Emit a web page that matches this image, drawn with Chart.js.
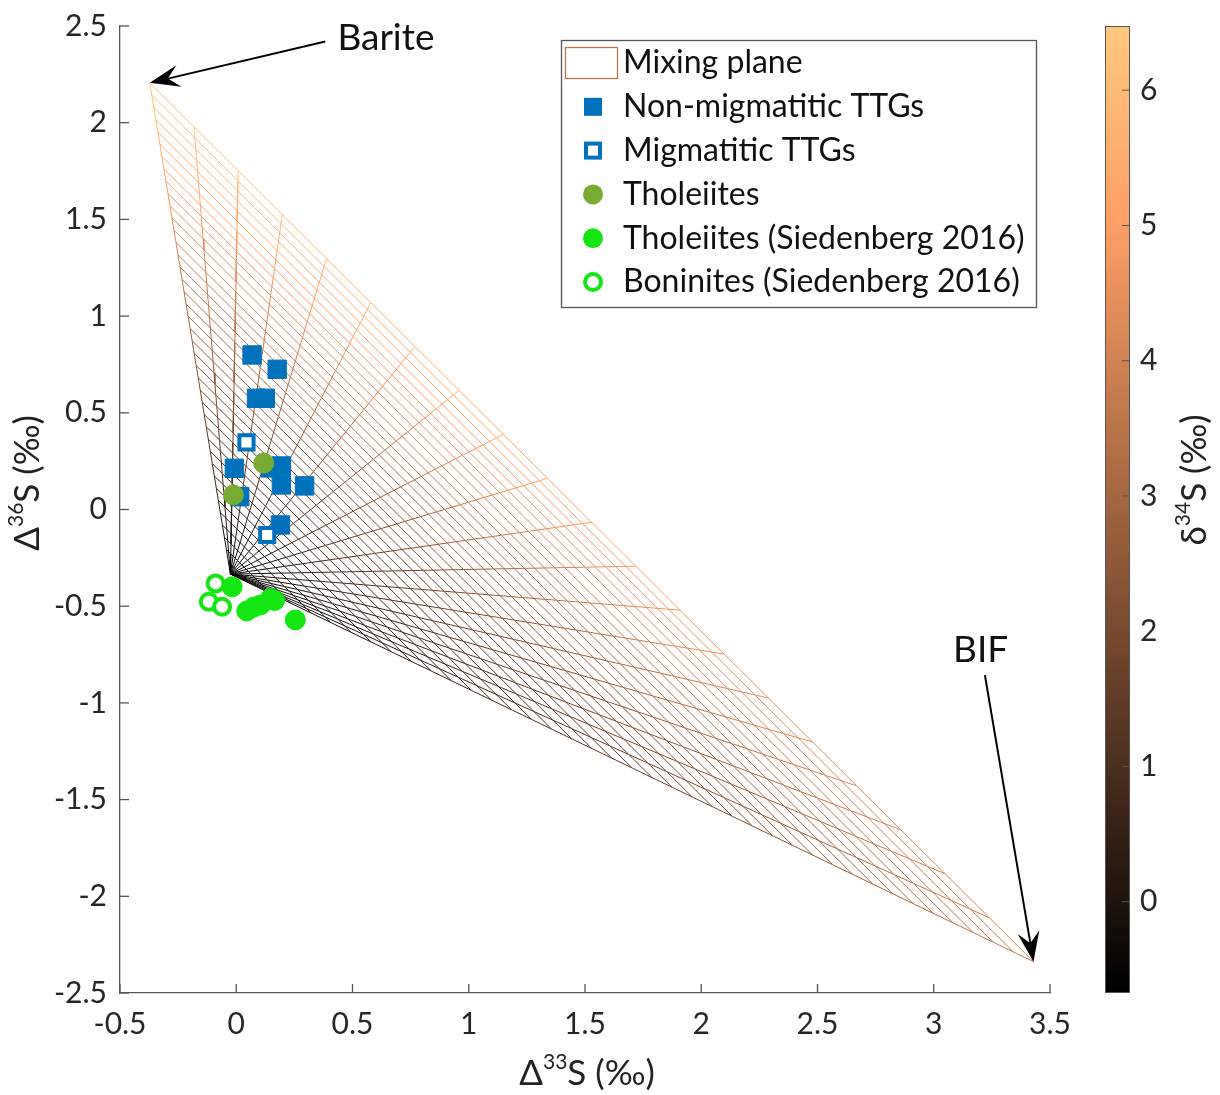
<!DOCTYPE html>
<html>
<head>
<meta charset="utf-8">
<title>Mixing plane</title>
<script src="https://cdn.jsdelivr.net/npm/chart.js@4.4.1/dist/chart.umd.min.js"></script>
<style>
  body { margin: 0; background: #fff; }
  #box { position: relative; width: 1220px; height: 1095px; }
</style>
</head>
<body>
<div id="box"><canvas id="chart" width="1220" height="1095"></canvas></div>
<script>
'use strict';

var FONT = "Lato, 'Noto Sans', 'DejaVu Sans', sans-serif";

// end-members: [D33S, D36S, d34S]
var BARITE = [-0.372, 2.206, 6.47];
var BIF = [3.429, -2.338, 3.8];
var MANTLE = [-0.025, -0.334, -0.67];

// mixing steps of the plane: mantle share, and barite share along the barite-BIF edge
var MANTLE_STEPS = [0, 0.025, 0.05, 0.075, 0.1, 0.125, 0.15, 0.175, 0.2, 0.225, 0.25, 0.275, 0.3, 0.325,
  0.35, 0.375, 0.4, 0.425, 0.45, 0.475, 0.5, 0.525, 0.55, 0.575, 0.6, 0.625, 0.65, 0.675, 0.7, 0.725,
  0.75, 0.775, 0.8, 0.825, 0.85, 0.875, 0.9, 0.925, 0.95, 0.975, 1];
var BARITE_STEPS = [0, 0.05, 0.1, 0.15, 0.2, 0.25, 0.3, 0.35, 0.4, 0.45, 0.5, 0.55, 0.6, 0.65, 0.7,
  0.75, 0.8, 0.85, 0.9, 0.95, 1];

// colorbar (d34S)
var CBAR_MIN = -0.675;
var CBAR_MAX = 6.475;
var CBAR_TICKS = [0, 1, 2, 3, 4, 5, 6];

// samples
var nonMigX = [0.068, 0.176, 0.087, 0.125, -0.008, 0.015, 0.147, 0.194, 0.194, 0.294, 0.19];
var nonMigY = [0.799, 0.725, 0.575, 0.575, 0.213, 0.066, 0.215, 0.225, 0.127, 0.122, -0.08];
var migX = [0.044, 0.133];
var migY = [0.347, -0.132];
var tholX = [0.118, -0.012];
var tholY = [0.24, 0.075];
var thol16X = [-0.018, 0.045, 0.075, 0.104, 0.147, 0.165, 0.254];
var thol16Y = [-0.40, -0.525, -0.505, -0.494, -0.46, -0.47, -0.571];
var bonX = [-0.089, -0.118, -0.061];
var bonY = [-0.382, -0.477, -0.503];

// annotation anchors (data units)
var BARITE_LABEL = {x: 0.435, y: 2.438, tailX: 0.383, tailY: 2.42};
var BIF_LABEL = {x: 3.083, y: -0.727, tailX: 3.22, tailY: -0.856};

var BLUE = '#0072BD';
var OLIVE = '#77AC30';
var GREEN = '#14E614';

function pts(xs, ys) {
  var out = [];
  for (var i = 0; i < xs.length; i++) out.push({x: xs[i], y: ys[i]});
  return out;
}

function copper(d) {
  var v = (d - CBAR_MIN) / (CBAR_MAX - CBAR_MIN);
  v = Math.max(0, Math.min(1, v));
  var r = Math.min(1, 1.25 * v), g = 0.7812 * v, b = 0.4975 * v;
  return 'rgb(' + Math.round(r * 255) + ',' + Math.round(g * 255) + ',' + Math.round(b * 255) + ')';
}

function mixPoint(m, t) {
  var o = [];
  for (var k = 0; k < 3; k++) {
    o.push(m * MANTLE[k] + (1 - m) * (t * BARITE[k] + (1 - t) * BIF[k]));
  }
  return {x: o[0], y: o[1], d: o[2]};
}

function meshDataset(line) {
  return {
    label: '',
    data: line,
    showLine: true,
    pointRadius: 0,
    borderWidth: 1,
    order: 20,
    borderColor: copper(line[0].d),
    segment: {
      borderColor: function(ctx) {
        return copper((line[ctx.p0DataIndex].d + line[ctx.p1DataIndex].d) / 2);
      }
    }
  };
}

var datasets = [];
// lines of constant mantle share
MANTLE_STEPS.forEach(function(m) {
  if (m === 1) return;
  datasets.push(meshDataset(BARITE_STEPS.map(function(t) { return mixPoint(m, t); })));
});
// lines from the mantle point to the barite-BIF edge
BARITE_STEPS.forEach(function(t) {
  datasets.push(meshDataset(MANTLE_STEPS.map(function(m) { return mixPoint(m, t); })));
});

datasets.push({label: 'Non-migmatitic TTGs', data: pts(nonMigX, nonMigY), pointStyle: 'rect',
  pointRadius: 13, backgroundColor: BLUE, borderColor: BLUE, borderWidth: 1, order: 5});
datasets.push({label: 'Migmatitic TTGs', data: pts(migX, migY), pointStyle: 'rect',
  pointRadius: 10, backgroundColor: '#fff', borderColor: BLUE, borderWidth: 4, order: 4});
datasets.push({label: 'Tholeiites', data: pts(tholX, tholY), pointStyle: 'circle',
  pointRadius: 10, backgroundColor: OLIVE, borderColor: OLIVE, borderWidth: 1, order: 3});
datasets.push({label: 'Boninites (Siedenberg 2016)', data: pts(bonX, bonY), pointStyle: 'circle',
  pointRadius: 8, backgroundColor: '#fff', borderColor: GREEN, borderWidth: 4, order: 2});
datasets.push({label: 'Tholeiites (Siedenberg 2016)', data: pts(thol16X, thol16Y), pointStyle: 'circle',
  pointRadius: 10, backgroundColor: GREEN, borderColor: GREEN, borderWidth: 1, order: 1});

// text with superscripts: parts = [[text, size, raise], ...]
function richText(ctx, parts, x, y, rot) {
  var w = 0, i;
  for (i = 0; i < parts.length; i++) {
    ctx.font = parts[i][1] + 'px ' + FONT;
    w += ctx.measureText(parts[i][0]).width;
  }
  ctx.save();
  ctx.translate(x, y);
  ctx.rotate(rot || 0);
  ctx.fillStyle = '#222';
  ctx.textBaseline = 'middle';
  ctx.textAlign = 'left';
  var cx = -w / 2;
  for (i = 0; i < parts.length; i++) {
    ctx.font = parts[i][1] + 'px ' + FONT;
    ctx.fillText(parts[i][0], cx, -parts[i][2]);
    cx += ctx.measureText(parts[i][0]).width;
  }
  ctx.restore();
}

function arrow(ctx, x0, y0, x1, y1) {
  var a = Math.atan2(y1 - y0, x1 - x0);
  var dx = Math.cos(a), dy = Math.sin(a);
  var L = 30, W = 11;
  ctx.save();
  ctx.strokeStyle = '#000';
  ctx.fillStyle = '#000';
  ctx.lineWidth = 2;
  ctx.beginPath();
  ctx.moveTo(x0, y0);
  ctx.lineTo(x1 - dx * 12, y1 - dy * 12);
  ctx.stroke();
  ctx.beginPath();
  ctx.moveTo(x1, y1);
  ctx.lineTo(x1 - dx * L - dy * W, y1 - dy * L + dx * W);
  ctx.lineTo(x1 - dx * L * 0.62, y1 - dy * L * 0.62);
  ctx.lineTo(x1 - dx * L + dy * W, y1 - dy * L - dx * W);
  ctx.closePath();
  ctx.fill();
  ctx.restore();
}

function marker(ctx, style, x, y) {
  ctx.save();
  ctx.beginPath();
  if (style === 'fsq') {
    ctx.fillStyle = BLUE;
    ctx.fillRect(x - 9, y - 9, 18, 18);
  } else if (style === 'osq') {
    ctx.strokeStyle = BLUE;
    ctx.lineWidth = 4;
    ctx.strokeRect(x - 7, y - 7, 14, 14);
  } else {
    ctx.arc(x, y, style === 'ocir' ? 8 : 10, 0, Math.PI * 2);
    if (style === 'ocir') {
      ctx.strokeStyle = GREEN;
      ctx.lineWidth = 4;
      ctx.stroke();
    } else {
      ctx.fillStyle = style === 'olive' ? OLIVE : GREEN;
      ctx.fill();
    }
  }
  ctx.restore();
}

var extras = {
  id: 'extras',
  beforeDatasetsDraw: function(chart) {
    var ctx = chart.ctx, area = chart.chartArea;
    var xs = chart.scales.x, ys = chart.scales.y, cb = chart.scales.cbar;
    ctx.save();
    // inward axis ticks
    ctx.strokeStyle = '#555';
    ctx.lineWidth = 1.3;
    xs.ticks.forEach(function(t) {
      var px = xs.getPixelForValue(t.value);
      ctx.beginPath(); ctx.moveTo(px, area.bottom); ctx.lineTo(px, area.bottom - 9); ctx.stroke();
    });
    ys.ticks.forEach(function(t) {
      var py = ys.getPixelForValue(t.value);
      ctx.beginPath(); ctx.moveTo(area.left, py); ctx.lineTo(area.left + 9, py); ctx.stroke();
    });
    // colorbar
    var left = area.right + 55, right = area.right + 80;
    var top = cb.getPixelForValue(CBAR_MAX), bot = cb.getPixelForValue(CBAR_MIN);
    for (var py = Math.floor(top); py < bot; py++) {
      ctx.fillStyle = copper(cb.getValueForPixel(py + 0.5));
      ctx.fillRect(left, py, right - left, 1);
    }
    ctx.strokeStyle = '#555';
    ctx.lineWidth = 1;
    ctx.strokeRect(left + 0.5, top + 0.5, right - left - 1, bot - top - 1);
    CBAR_TICKS.forEach(function(v) {
      var p = cb.getPixelForValue(v);
      ctx.beginPath(); ctx.moveTo(right - 8, p); ctx.lineTo(right, p); ctx.stroke();
    });
    // axis titles
    richText(ctx, [['\u0394', 35, 0], ['33', 21, 12], ['S (\u2030)', 35, 0]],
      (area.left + area.right) / 2 + 2, 1074, 0);
    richText(ctx, [['\u0394', 35, 0], ['36', 21, 12], ['S (\u2030)', 35, 0]],
      28, 483, -Math.PI / 2);
    richText(ctx, [['\u03B4', 35, 0], ['34', 21, 12], ['S (\u2030)', 35, 0]],
      1195, 480, -Math.PI / 2);
    ctx.restore();
  },
  afterDatasetsDraw: function(chart) {
    var ctx = chart.ctx;
    var xs = chart.scales.x, ys = chart.scales.y;
    ctx.save();
    // annotations
    arrow(ctx, xs.getPixelForValue(BARITE_LABEL.tailX), ys.getPixelForValue(BARITE_LABEL.tailY),
      xs.getPixelForValue(BARITE[0]), ys.getPixelForValue(BARITE[1]));
    arrow(ctx, xs.getPixelForValue(BIF_LABEL.tailX), ys.getPixelForValue(BIF_LABEL.tailY),
      xs.getPixelForValue(BIF[0]), ys.getPixelForValue(BIF[1]));
    ctx.fillStyle = '#111';
    ctx.font = '37px ' + FONT;
    ctx.textBaseline = 'middle';
    ctx.textAlign = 'left';
    ctx.fillText('Barite', xs.getPixelForValue(BARITE_LABEL.x), ys.getPixelForValue(BARITE_LABEL.y));
    ctx.fillText('BIF', xs.getPixelForValue(BIF_LABEL.x), ys.getPixelForValue(BIF_LABEL.y));

    // legend
    var bx = 561.5, by = 40.5, bw = 475, bh = 267;
    ctx.fillStyle = '#fff';
    ctx.fillRect(bx, by, bw, bh);
    ctx.strokeStyle = '#555';
    ctx.lineWidth = 1.3;
    ctx.strokeRect(bx, by, bw, bh);
    ctx.strokeStyle = copper(3.5);
    ctx.lineWidth = 1.3;
    ctx.strokeRect(565.5, 47.5, 52, 31);
    var items = [
      [null, 'Mixing plane'],
      ['fsq', 'Non-migmatitic TTGs'],
      ['osq', 'Migmatitic TTGs'],
      ['olive', 'Tholeiites'],
      ['fcir', 'Tholeiites (Siedenberg 2016)'],
      ['ocir', 'Boninites (Siedenberg 2016)']
    ];
    ctx.font = '32px ' + FONT;
    items.forEach(function(it, i) {
      var cy = 63 + i * 43.8;
      if (it[0]) marker(ctx, it[0], 593, cy);
      ctx.fillStyle = '#111';
      ctx.fillText(it[1], 623, cy);
    });
    ctx.restore();
  }
};

var tickFont = {family: FONT, size: 30};
function tickLabel(v) { return String(Math.round(v * 10) / 10); }

new Chart(document.getElementById('chart'), {
  type: 'scatter',
  data: {datasets: datasets},
  options: {
    responsive: false,
    animation: false,
    events: [],
    layout: {padding: {top: 26, left: 0, right: 0, bottom: 0}},
    plugins: {legend: {display: false}, tooltip: {enabled: false}},
    scales: {
      x: {
        type: 'linear', min: -0.5, max: 3.5,
        ticks: {stepSize: 0.5, padding: 13, font: tickFont, color: '#262626', callback: tickLabel},
        grid: {display: false, drawTicks: false},
        border: {display: true, color: '#555', width: 1.3},
        afterFit: function(s) { s.height = 102; }
      },
      y: {
        type: 'linear', min: -2.5, max: 2.5,
        ticks: {stepSize: 0.5, padding: 13, font: tickFont, color: '#262626', callback: tickLabel},
        grid: {display: false, drawTicks: false},
        border: {display: true, color: '#555', width: 1.3},
        afterFit: function(s) { s.width = 120; s.paddingTop = 0; s.paddingBottom = 0; }
      },
      cbar: {
        type: 'linear', position: 'right', min: CBAR_MIN, max: CBAR_MAX,
        ticks: {padding: 90, font: tickFont, color: '#262626'},
        grid: {display: false, drawTicks: false},
        border: {display: false},
        afterBuildTicks: function(s) { s.ticks = CBAR_TICKS.map(function(v) { return {value: v}; }); },
        afterFit: function(s) { s.width = 170; s.paddingTop = 0; s.paddingBottom = 0; }
      }
    }
  },
  plugins: [extras]
});
</script>
</body>
</html>
